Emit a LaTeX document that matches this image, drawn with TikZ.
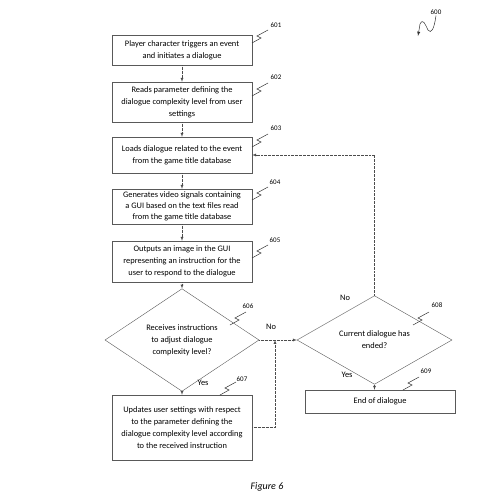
\documentclass[tikz,border=0pt]{standalone}
\usepackage{fontspec}
\setmainfont{Carlito}
\usetikzlibrary{shapes.geometric,arrows,positioning}
\tikzset
{
    stepbox/.style  = {rectangle, draw=black!65, line width=0.4pt, align=center, inner sep=1pt, minimum width=140pt, font=\fontsize{8.4}{12}\selectfont},
    decision/.style = {diamond, draw=black!65, line width=0.4pt, align=center, inner sep=0pt, font=\fontsize{8.4}{12}\selectfont},
    flow/.style     = {->, >=latex, densely dotted, line width=0.35pt, black!70},
    lead/.style     = {black!80, line width=0.5pt},
    refnum/.style   = {font=\fontsize{7}{8}\selectfont, inner sep=1pt},
    answer/.style   = {font=\fontsize{8.4}{10}\selectfont}
}

\begin{document}
\begin{tikzpicture}[x=1pt,y=-1pt]
\useasboundingbox (0,0) rectangle (500,496);
\node [stepbox, minimum height=30pt] at (182,50) (b601) {Player character triggers an event\\and initiates a dialogue};
\node [stepbox, minimum height=40pt] at (182,102) (b602) {Reads parameter defining the\\dialogue complexity level from user\\settings};
\node [stepbox, minimum height=36pt] at (182,155) (b603) {Loads dialogue related to the event\\from the game title database};
\node [stepbox, minimum height=35pt, font=\fontsize{8.4}{11}\selectfont] at (182,206.5) (b604) {Generates video signals containing\\a GUI based on the text files read\\from the game title database};
\node [stepbox, minimum height=41pt] at (182,261.5) (b605) {Outputs an image in the GUI\\representing an instruction for the\\user to respond to the dialogue};
\node [decision, minimum width=154pt, minimum height=73pt] at (182,340) (d606) {Receives instructions\\to adjust dialogue\\complexity level?};
\node [stepbox, minimum height=65pt] at (182,427.5) (b607) {Updates user settings with respect\\to the parameter defining the\\dialogue complexity level according\\to the received instruction};
\node [decision, minimum width=155pt, minimum height=54pt] at (374.5,340) (d608) {Current dialogue has\\ended?};
\node [stepbox, minimum width=150pt, minimum height=23pt] at (380,401.5) (b609) {End of dialogue};
\coordinate (join) at (275,340);
% flow
\draw [flow] (b601) edge (b602);
\draw [flow] (b602) edge (b603);
\draw [flow] (b603) edge (b604);
\draw [flow] (b604) edge (b605);
\draw [flow] (b605) edge (d606);
\draw [flow] (d606) edge (b607);
\draw [flow] (d606) edge (d608);
\draw [flow] (b607.east) -| (join);
\draw [flow] (d608.south) -- (d608.south |- b609.north);
\draw [flow] (d608.north) |- (b603.east);
\node [answer] at (271,327) (no606) {No};
\node [answer] at (203,383) (yes606) {Yes};
\node [answer] at (345,298) (no608) {No};
\node [answer] at (347,375) (yes608) {Yes};
% reference numerals
\node [refnum] at (276,25) (l601) {601};
\node [refnum] at (276,77) (l602) {602};
\node [refnum] at (276,128) (l603) {603};
\node [refnum] at (275,182) (l604) {604};
\node [refnum] at (275,240) (l605) {605};
\node [refnum] at (248,306) (l606) {606};
\node [refnum] at (242,379) (l607) {607};
\node [refnum] at (437,305) (l608) {608};
\node [refnum] at (426,371) (l609) {609};
\node [refnum] at (436,12) (l600) {600};
\draw [lead] (252,43) -- ++(9,-5) -- ++(-4,-2) -- ++(11,-6);
\draw [lead] (252,96) -- ++(9,-5) -- ++(-4,-2) -- ++(11,-6);
\draw [lead] (252,147) -- ++(9,-5) -- ++(-4,-2) -- ++(11,-6);
\draw [lead] (252,200) -- ++(9,-5) -- ++(-4,-2) -- ++(11,-6);
\draw [lead] (252,258) -- ++(9,-5) -- ++(-4,-2) -- ++(11,-6);
\draw [lead] (230,325) -- ++(9,-5) -- ++(-4,-2) -- ++(11,-6);
\draw [lead] (220,395) -- ++(9,-5) -- ++(-4,-2) -- ++(11,-6);
\draw [lead] (413,325) -- ++(9,-5) -- ++(-4,-2) -- ++(11,-6);
\draw [lead] (403,390) -- ++(9,-5) -- ++(-4,-2) -- ++(11,-6);
\draw [lead, ->, >=latex] (l600.south) .. controls (434,30) and (431,34) .. (428,30) .. controls (425,24) and (423,18) .. (420,24) -- (418,36);
\node [font=\fontsize{10}{12}\selectfont\itshape] at (267,487) (caption) {Figure 6};
\end{tikzpicture}
\end{document}
